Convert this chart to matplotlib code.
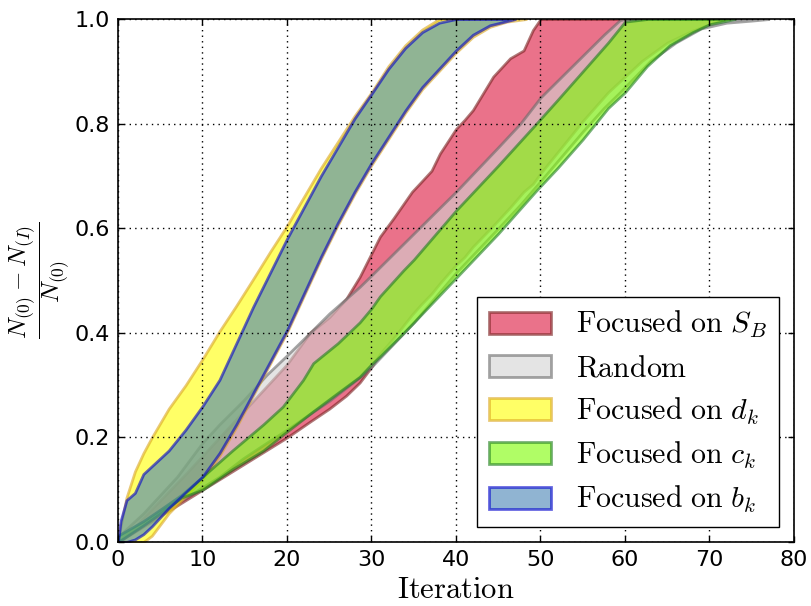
import matplotlib
matplotlib.use("Agg")
import matplotlib.pyplot as plt

plt.rcParams['mathtext.fontset'] = 'cm'
plt.rcParams['font.family'] = ['DejaVu Sans']

# ---------------- data ----------------
labels = [r'$\mathrm{Focused\ on}\ S_B$', r'$\mathrm{Random}$',
          r'$\mathrm{Focused\ on}\ d_k$', r'$\mathrm{Focused\ on}\ c_k$',
          r'$\mathrm{Focused\ on}\ b_k$']

sb_x = [0, 2, 5, 8, 10, 12, 14, 16, 18, 20, 22.7, 25, 27, 28.6, 30, 31, 32.6, 34.8,
        35.9, 37.1, 38.1, 40, 41, 42, 44.4, 46.4, 48, 49.1, 50, 52, 55, 58, 60, 62,
        65, 68, 70, 72]
sb_hi = [0.0, 0.03, 0.08, 0.13, 0.165, 0.2, 0.235, 0.27, 0.305, 0.34, 0.40, 0.43,
         0.465, 0.507, 0.552, 0.584, 0.619, 0.67, 0.689, 0.71, 0.743, 0.79, 0.807,
         0.826, 0.89, 0.925, 0.94, 0.979, 1.0, 1.0, 1.0, 1.0, 1.0, 1.0, 1.0, 1.0,
         1.0, 1.0]
sb_lo = [0.0, 0.02, 0.05, 0.08, 0.1, 0.12, 0.14, 0.16, 0.18, 0.2, 0.23, 0.255,
         0.28, 0.305, 0.335, 0.36, 0.39, 0.435, 0.455, 0.475, 0.495, 0.53, 0.545,
         0.565, 0.605, 0.64, 0.67, 0.685, 0.705, 0.745, 0.805, 0.86, 0.89, 0.92,
         0.955, 0.978, 0.99, 1.0]

rnd_x = [0, 3, 5, 7, 10, 12, 14.8, 17.6, 20, 22.7, 25, 28.6, 30, 35, 40, 45, 47.6,
         50, 55, 57.5, 59.4, 60, 63, 66, 69, 72, 75, 77]
rnd_hi = [0.01, 0.055, 0.09, 0.125, 0.19, 0.225, 0.27, 0.32, 0.357, 0.40, 0.437,
          0.488, 0.51, 0.59, 0.67, 0.755, 0.8, 0.85, 0.93, 0.97, 0.998, 1.0, 1.0,
          1.0, 1.0, 1.0, 1.0, 1.0]
rnd_lo = [0.01, 0.035, 0.055, 0.075, 0.105, 0.125, 0.16, 0.19, 0.215, 0.245, 0.27,
          0.315, 0.335, 0.42, 0.515, 0.6, 0.645, 0.69, 0.785, 0.83, 0.86, 0.87,
          0.92, 0.955, 0.982, 0.993, 0.997, 1.0]

dk_x = [0, 0.3, 1, 2, 3, 4, 6, 8, 10, 12, 14, 16, 18, 20, 22, 24, 26, 28, 30, 32,
        34, 36, 38, 40, 42, 44, 46, 48.3]
dk_hi = [0.0, 0.03, 0.085, 0.135, 0.17, 0.2, 0.255, 0.3, 0.35, 0.403, 0.452, 0.503,
         0.555, 0.605, 0.66, 0.715, 0.765, 0.815, 0.86, 0.91, 0.95, 0.98, 1.0, 1.0,
         1.0, 1.0, 1.0, 1.0]
dk_lo = [0.0, 0.0, 0.0, 0.0, 0.0, 0.012, 0.055, 0.088, 0.12, 0.165, 0.22, 0.281,
         0.341, 0.401, 0.471, 0.541, 0.606, 0.666, 0.721, 0.771, 0.821, 0.866,
         0.901, 0.936, 0.966, 0.985, 0.995, 1.0]

ck_x = [0, 3, 5, 7.5, 10, 13.6, 17.2, 19.5, 21.9, 23.1, 26, 28.6, 30, 31, 33.8, 35,
        40, 45, 49.5, 52, 55, 58, 60, 62.6, 65.3, 68, 70, 73]
ck_hi = [0.012, 0.04, 0.062, 0.09, 0.125, 0.176, 0.225, 0.259, 0.31, 0.342, 0.38,
         0.42, 0.447, 0.47, 0.52, 0.54, 0.634, 0.72, 0.8, 0.845, 0.9, 0.955, 0.995,
         1.0, 1.0, 1.0, 1.0, 1.0]
ck_lo = [0.0, 0.032, 0.055, 0.085, 0.1, 0.14, 0.175, 0.205, 0.235, 0.25, 0.285,
         0.316, 0.34, 0.355, 0.4, 0.42, 0.505, 0.59, 0.672, 0.715, 0.77, 0.83, 0.86,
         0.91, 0.95, 0.975, 0.99, 1.0]

bk_x = [0, 0.3, 1, 2, 3, 4, 6, 8, 10, 12, 14, 16, 18, 20, 22, 24, 26, 28, 30, 32,
        34, 36, 38, 40, 42, 44, 47]
bk_hi = [0.0, 0.04, 0.08, 0.094, 0.13, 0.145, 0.175, 0.215, 0.26, 0.31, 0.38,
         0.45, 0.515, 0.58, 0.64, 0.7, 0.755, 0.81, 0.857, 0.905, 0.945, 0.975,
         0.993, 1.0, 1.0, 1.0, 1.0]
bk_lo = [0.0, 0.0, 0.0, 0.005, 0.015, 0.03, 0.065, 0.095, 0.125, 0.17, 0.225,
         0.285, 0.345, 0.405, 0.475, 0.545, 0.61, 0.67, 0.725, 0.775, 0.825, 0.87,
         0.905, 0.94, 0.97, 0.988, 1.0]

x_ticks = [0, 10, 20, 30, 40, 50, 60, 70, 80]
y_ticks = [0.0, 0.2, 0.4, 0.6, 0.8, 1.0]

# ---------------- styles ----------------
series = [
    (sb_x, sb_lo, sb_hi, 'crimson', '#7a2020', 0.6),
    (rnd_x, rnd_lo, rnd_hi, 'lightgray', '#6a6a6a', 0.6),
    (dk_x, dk_lo, dk_hi, 'yellow', 'goldenrod', 0.6),
    (ck_x, ck_lo, ck_hi, 'lawngreen', '#1e7d1e', 0.6),
    (bk_x, bk_lo, bk_hi, 'steelblue', 'mediumblue', 0.6),
]

fig = plt.figure(figsize=(8.11, 6.06), dpi=100)
ax = fig.add_axes([0.1455, 0.1056, 0.979 - 0.1455, 0.9686 - 0.1056])

for (xs, lo, hi, fc, ec, a), lab in zip(series, labels):
    ax.fill_between(xs, lo, hi, facecolor=fc, edgecolor=ec, alpha=a,
                    linewidth=2, label=lab)

ax.set_xlim(0, 80)
ax.set_ylim(0, 1)
ax.set_xticks(x_ticks)
ax.set_yticks(y_ticks)
ax.set_xticklabels([str(v) for v in x_ticks])
ax.set_yticklabels(['%.1f' % v for v in y_ticks])
ax.tick_params(direction='in', top=True, right=True, length=4, width=1,
               labelsize=16, pad=6)
for s in ax.spines.values():
    s.set_linewidth(1.2)
ax.set_axisbelow(False)
ax.grid(True, color='k', linestyle=(0, (1, 3)), linewidth=1)

ax.set_xlabel(r'$\mathrm{Iteration}$', fontsize=22, labelpad=3)
ax.set_ylabel(r'$\dfrac{N_{(0)}-N_{(I)}}{N_{(0)}}$', fontsize=18, labelpad=2)

leg = ax.legend(loc='lower right', fontsize=21.5, fancybox=False, framealpha=1,
                edgecolor='k', handlelength=2.07, handleheight=0.75,
                handletextpad=0.84, labelspacing=0.44, borderpad=0.4,
                borderaxespad=0.5)
leg.get_frame().set_linewidth(1.0)

fig.savefig('out.png', dpi=100, facecolor='white')
